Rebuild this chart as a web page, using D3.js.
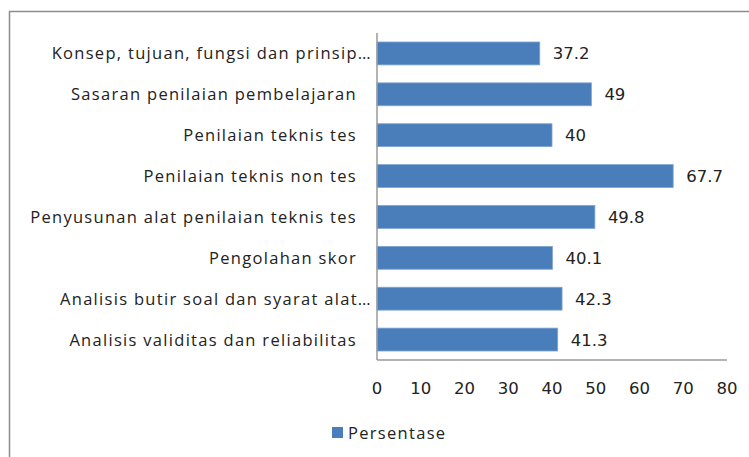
<!DOCTYPE html>
<html lang="id">
<head>
<meta charset="utf-8" />
<title>Persentase</title>
<script src="https://cdn.jsdelivr.net/npm/d3@7"></script>
<style>
  body { margin: 0; background: #fff; }
</style>
</head>
<body>
<svg id="chart" width="749" height="457"></svg>
<script>
    // data
    var categories = [
        'Konsep, tujuan, fungsi dan prinsip\u2026',
        'Sasaran penilaian pembelajaran',
        'Penilaian teknis tes',
        'Penilaian teknis non tes',
        'Penyusunan alat penilaian teknis tes',
        'Pengolahan skor',
        'Analisis butir soal dan syarat alat\u2026',
        'Analisis validitas dan reliabilitas'
    ];
    var values = [37.2, 49, 40, 67.7, 49.8, 40.1, 42.3, 41.3];
    var xTicks = [0, 10, 20, 30, 40, 50, 60, 70, 80];
    var seriesName = 'Persentase';

    function main() {
        var svg = d3.select('#chart');

        // frame
        svg.append('rect')
            .attr('x', 9.5).attr('y', 11.5)
            .attr('width', 760).attr('height', 460)
            .attr('fill', 'none')
            .attr('stroke', '#8c8c8c')
            .attr('stroke-width', 1.5);

        var plotLeft = 377, plotRight = 727, plotTop = 33, plotBottom = 360;

        var x = d3.scaleLinear().domain([0, 80]).range([plotLeft, plotRight]);
        var y = d3.scaleBand().domain(categories).range([plotTop, plotBottom])
            .paddingInner(0.44).paddingOuter(0.22);

        var g = svg.append('g');

        // bars
        g.selectAll('.bar')
            .data(values)
            .enter().append('rect')
            .attr('class', 'bar')
            .attr('x', x(0))
            .attr('y', function(d, i) { return y(categories[i]); })
            .attr('width', function(d) { return x(d) - x(0); })
            .attr('height', y.bandwidth())
            .attr('fill', '#4a7ebb')
            .attr('stroke', '#7fa4d3')
            .attr('stroke-width', 0.8);

        // value labels
        g.selectAll('.val')
            .data(values)
            .enter().append('text')
            .attr('class', 'val')
            .attr('x', function(d) { return x(d) + 13; })
            .attr('y', function(d, i) { return y(categories[i]) + y.bandwidth() / 2; })
            .attr('dy', '0.36em')
            .style('font-family', 'DejaVu Sans, Verdana, sans-serif')
            .style('font-size', '16.5px')
            .style('fill', '#222')
            .text(function(d) { return d; });

        // axis lines
        g.append('line')
            .attr('x1', plotLeft).attr('x2', plotLeft)
            .attr('y1', plotTop).attr('y2', plotBottom)
            .style('stroke', '#9a9a9a').style('stroke-width', 1.5);
        g.append('line')
            .attr('x1', plotLeft).attr('x2', plotRight)
            .attr('y1', plotBottom).attr('y2', plotBottom)
            .style('stroke', '#9a9a9a').style('stroke-width', 1.5);

        // x tick labels
        g.selectAll('.xt')
            .data(xTicks)
            .enter().append('text')
            .attr('class', 'xt')
            .attr('x', function(d) { return x(d); })
            .attr('y', 388)
            .attr('dy', '0.36em')
            .attr('text-anchor', 'middle')
            .style('font-family', 'DejaVu Sans, Verdana, sans-serif')
            .style('font-size', '16.5px')
            .style('fill', '#222')
            .text(function(d) { return d; });

        // category labels
        g.selectAll('.cat')
            .data(categories)
            .enter().append('text')
            .attr('class', 'cat')
            .attr('x', function(d) { return d.slice(-1) === '\u2026' ? 372 : 357; })
            .attr('y', function(d) { return y(d) + y.bandwidth() / 2; })
            .attr('dy', '0.36em')
            .attr('text-anchor', 'end')
            .style('font-family', 'Open Sans, sans-serif')
            .style('font-size', '16.5px')
            .style('letter-spacing', '1.3px')
            .style('fill', '#222')
            .text(function(d) { return d; });

        // legend
        svg.append('rect')
            .attr('x', 332).attr('y', 427)
            .attr('width', 11).attr('height', 11)
            .attr('fill', '#4a7ebb');
        svg.append('text')
            .attr('x', 348).attr('y', 433)
            .attr('dy', '0.36em')
            .style('font-family', 'Open Sans, sans-serif')
            .style('font-size', '16.5px')
            .style('letter-spacing', '1.3px')
            .style('fill', '#222')
            .text(seriesName);
    }

    main();
</script>
</body>
</html>
